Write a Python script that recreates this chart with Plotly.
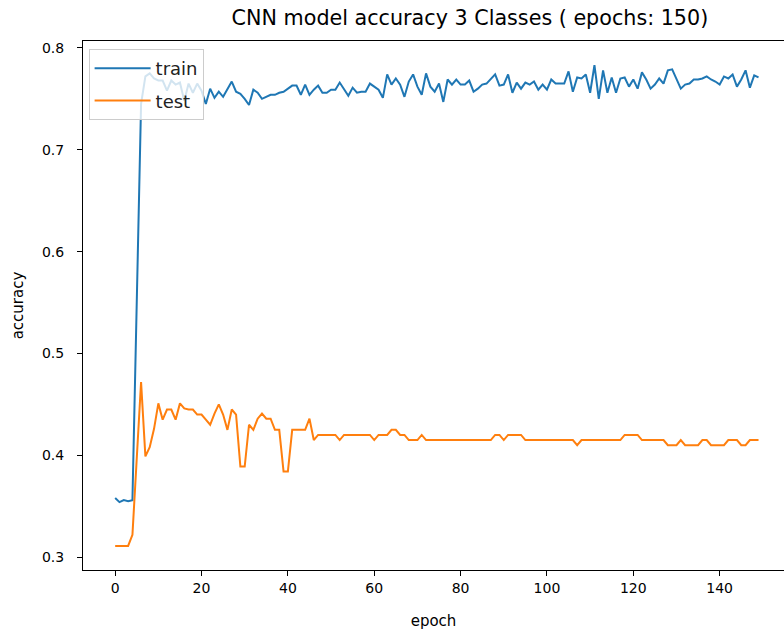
import plotly.graph_objects as go

epochs = list(range(150))

train_acc = [
    0.358, 0.354, 0.356, 0.355, 0.356, 0.540, 0.745, 0.772, 0.775, 0.770,
    0.768, 0.768, 0.758, 0.768, 0.764, 0.766, 0.748, 0.765, 0.756, 0.765,
    0.758, 0.745, 0.760, 0.751, 0.757, 0.752, 0.760, 0.767, 0.757, 0.755,
    0.750, 0.744, 0.759, 0.756, 0.750, 0.752, 0.754, 0.754, 0.756, 0.757,
    0.760, 0.763, 0.763, 0.754, 0.764, 0.754, 0.759, 0.763, 0.756, 0.756,
    0.759, 0.759, 0.766, 0.759, 0.753, 0.761, 0.756, 0.757, 0.757, 0.765,
    0.762, 0.759, 0.751, 0.774, 0.764, 0.770, 0.764, 0.752, 0.767, 0.774,
    0.762, 0.754, 0.775, 0.762, 0.757, 0.765, 0.747, 0.769, 0.764, 0.769,
    0.764, 0.764, 0.768, 0.757, 0.760, 0.764, 0.765, 0.769, 0.774, 0.763,
    0.764, 0.774, 0.756, 0.766, 0.760, 0.766, 0.764, 0.767, 0.759, 0.764,
    0.759, 0.769, 0.765, 0.765, 0.765, 0.777, 0.757, 0.771, 0.770, 0.774,
    0.756, 0.783, 0.750, 0.778, 0.756, 0.771, 0.756, 0.770, 0.771, 0.762,
    0.769, 0.760, 0.776, 0.769, 0.760, 0.764, 0.770, 0.765, 0.778, 0.779,
    0.770, 0.760, 0.764, 0.765, 0.769, 0.769, 0.770, 0.772, 0.769, 0.767,
    0.764, 0.772, 0.770, 0.774, 0.762, 0.769, 0.778, 0.761, 0.773, 0.771,
]

test_acc = [
    0.311, 0.311, 0.311, 0.311, 0.322, 0.398, 0.472, 0.399, 0.408, 0.426,
    0.451, 0.435, 0.445, 0.445, 0.435, 0.451, 0.446, 0.445, 0.445, 0.440,
    0.440, 0.435, 0.430, 0.441, 0.450, 0.440, 0.425, 0.445, 0.440, 0.389,
    0.389, 0.430, 0.425, 0.436, 0.441, 0.436, 0.436, 0.425, 0.425, 0.384,
    0.384, 0.425, 0.425, 0.425, 0.425, 0.436, 0.415, 0.420, 0.420, 0.420,
    0.420, 0.420, 0.415, 0.420, 0.420, 0.420, 0.420, 0.420, 0.420, 0.420,
    0.415, 0.420, 0.420, 0.420, 0.425, 0.425, 0.420, 0.420, 0.415, 0.415,
    0.415, 0.420, 0.415, 0.415, 0.415, 0.415, 0.415, 0.415, 0.415, 0.415,
    0.415, 0.415, 0.415, 0.415, 0.415, 0.415, 0.415, 0.415, 0.420, 0.420,
    0.415, 0.420, 0.420, 0.420, 0.420, 0.415, 0.415, 0.415, 0.415, 0.415,
    0.415, 0.415, 0.415, 0.415, 0.415, 0.415, 0.415, 0.410, 0.415, 0.415,
    0.415, 0.415, 0.415, 0.415, 0.415, 0.415, 0.415, 0.415, 0.420, 0.420,
    0.420, 0.420, 0.415, 0.415, 0.415, 0.415, 0.415, 0.415, 0.410, 0.410,
    0.410, 0.415, 0.410, 0.410, 0.410, 0.410, 0.415, 0.415, 0.410, 0.410,
    0.410, 0.410, 0.415, 0.415, 0.415, 0.410, 0.410, 0.415, 0.415, 0.415,
]

series_names = ["train", "test"]
series_colors = ["#1f77b4", "#ff7f0e"]
title_text = "CNN model accuracy 3 Classes ( epochs: 150)"
x_label = "epoch"
y_label = "accuracy"

FONT = "DejaVu Sans"

fig = go.Figure()
for name, vals, col in zip(series_names, [train_acc, test_acc], series_colors):
    fig.add_trace(go.Scatter(
        x=epochs, y=vals, mode="lines", name=name, legendgroup=name,
        line=dict(color=col, width=2),
    ))

fig.update_layout(
    width=784, height=634,
    margin=dict(l=83, r=0, t=41, b=64, autoexpand=False),
    paper_bgcolor="white", plot_bgcolor="white",
    font=dict(family=FONT, size=14, color="black"),
    title=dict(
        text=title_text, font=dict(family=FONT, size=20.7, color="black"),
        x=0.552, xref="paper", xanchor="center",
        y=1 - 18 / 634, yref="container", yanchor="middle",
    ),
    showlegend=True,
    legend=dict(
        x=0.008, y=0.985, xanchor="left", yanchor="top",
        bgcolor="rgba(255,255,255,0.8)", bordercolor="#cccccc", borderwidth=1,
        font=dict(family=FONT, size=18, color="#222222"),
        traceorder="grouped", tracegroupgap=6, itemwidth=56,
    ),
    xaxis=dict(
        range=[-7.45, 154.9], tickmode="linear", tick0=0, dtick=20,
        showgrid=False, zeroline=False,
        showline=True, linecolor="black", linewidth=1, mirror=True,
        ticks="outside", ticklen=5, tickcolor="black", tickwidth=1,
        ticklabelstandoff=0,
        tickfont=dict(family=FONT, size=14, color="black"),
        title=dict(text=x_label, font=dict(family=FONT, size=15, color="black"), standoff=20),
    ),
    yaxis=dict(
        range=[0.2874, 0.8068], tickmode="linear", tick0=0.3, dtick=0.1,
        tickformat=".1f",
        showgrid=False, zeroline=False,
        showline=True, linecolor="black", linewidth=1, mirror=False,
        ticks="outside", ticklen=5, tickcolor="black", tickwidth=1,
        ticklabelstandoff=10,
        tickfont=dict(family=FONT, size=14, color="black"),
        title=dict(text=y_label, font=dict(family=FONT, size=15, color="black"), standoff=14),
    ),
)

fig.write_html("out.html")
